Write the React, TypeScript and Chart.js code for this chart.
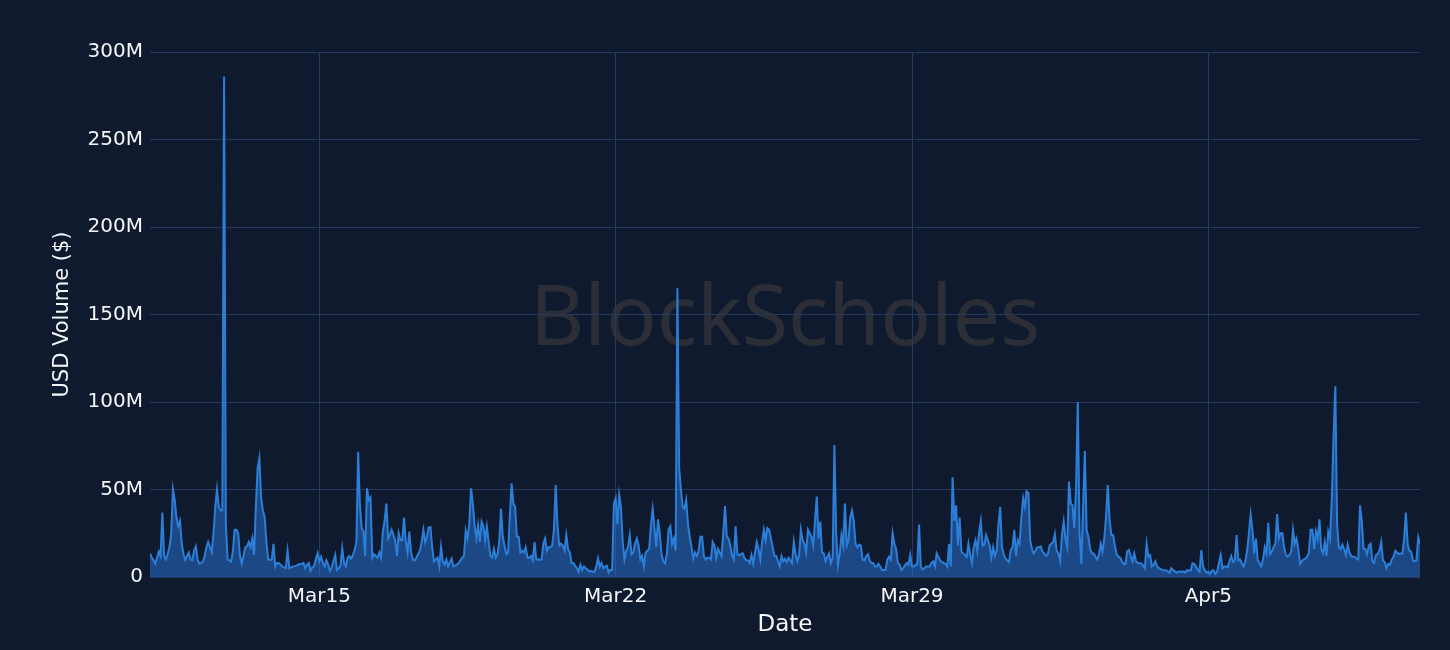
import { useEffect, useRef } from 'react';
import { Chart, registerables } from 'chart.js';

Chart.register(...registerables);

// Hourly USD volume in millions, starting Mar 11 00:00 (hour 0) through Apr 10 00:00 (hour 720)
const volumeM: number[] = [
  13.5, 11, 9.5, 7.5, 11, 14.5, 12, 36.8, 12, 10,
  13, 17, 24, 50, 44, 34, 29, 32, 19, 13,
  9.7, 12, 14, 10, 9.5, 15, 17.5, 10, 7.5, 8,
  8.8, 12, 17, 20, 17, 14, 25, 40, 50, 40,
  38, 38, 286, 30, 10, 9.5, 8.8, 15, 27, 27,
  25, 12, 7.8, 12, 17, 17.5, 20, 17, 22, 12.6,
  40, 62, 68, 45, 38, 34, 20, 10, 9.7, 10,
  19, 6, 8,
  8, 7, 6, 5.5, 5.2, 15, 5, 5.5, 6, 6.2,
  6.5, 7, 7.4, 7.5, 8, 5, 7, 8, 3.5, 5.5,
  6, 10, 13.5, 9, 11.5, 8, 6, 9.5, 7, 3.5,
  5.5, 9, 12.6, 4, 5, 6.5, 16.4, 8, 6, 11,
  12, 10.5, 12.5, 15.4, 20, 71.6, 41, 28, 26, 12,
  50.7, 44, 45.5, 11, 13, 12, 11, 14, 11, 26,
  32, 42, 22, 24, 27, 24, 21, 12, 25, 21,
  21, 34,
  20, 14, 26, 14, 10, 9.5, 11, 13, 15, 20,
  27, 20, 23, 28.4, 28.5, 17, 9, 10, 11, 6,
  17.3, 9, 7, 10, 6, 8.5, 10.5, 6, 6.5, 7,
  8, 9.5, 11, 12, 26.5, 22, 30, 50.7, 42, 30,
  22, 29.7, 20, 31.6, 29, 21, 28.8, 20, 12, 11,
  16, 11, 13, 20, 39, 23, 18, 13, 14, 35,
  53.5, 42, 40, 23, 23, 14, 15, 14, 17, 11,
  11, 12,
  9.5, 20, 10, 10, 9.8, 10, 19, 22, 15, 17,
  17, 18, 27, 52.6, 30, 18, 19, 18, 15, 24,
  16, 14, 8, 8, 6.5, 5, 3, 7, 4, 6,
  5, 4.3, 3, 3.5, 3, 3, 6, 10.7, 6, 8,
  5, 6, 6.5, 2.5, 4, 4, 42, 45, 30, 47,
  40, 20, 10, 15, 17, 24, 13, 14, 19, 22,
  18, 10, 12, 6, 14, 15, 16, 30, 39, 28,
  17, 33,
  25, 13, 9, 7.8, 13, 27, 29, 19, 22, 15,
  165, 62, 50, 40, 39, 44, 30, 23, 17, 10.5,
  14, 12, 15, 23, 23, 12, 10, 11, 11, 10,
  20, 18, 11, 16, 14, 12, 25, 40.6, 23, 22,
  18, 12, 10, 29, 13, 12.5, 13, 13.5, 11, 9.6,
  9.5, 8, 12.5, 7.5, 14, 20, 16, 10, 20, 27,
  21, 28, 27, 22, 17, 12, 12, 9, 6, 12,
  9, 10.5,
  8.5, 11, 9.5, 8, 20, 13, 9, 12.5, 27, 21,
  19, 14, 27, 25, 23, 18, 32, 46, 22, 31.6,
  14, 13.5, 9, 11.5, 13.5, 8, 11, 75.4, 25, 7,
  13, 24, 18, 42, 18, 21, 34, 38, 32, 19,
  17, 18.5, 18, 10, 9.5, 12, 13, 9.5, 8, 8,
  6, 6, 7.5, 6, 4, 4, 4, 10, 11.6, 10,
  25, 19, 16, 8, 7, 4, 5, 6.5, 8, 7,
  12.6, 6,
  6, 7, 7, 30, 6, 4.4, 5, 6, 6, 6,
  8, 9, 6, 13.5, 11.5, 9.5, 8.5, 8, 7.5, 6,
  19, 6, 57, 32, 41, 18, 34, 14.5, 13.5, 12.6,
  11.5, 19, 12.6, 8, 17, 21, 15, 25, 32, 18,
  18.5, 24, 21, 18, 11, 17, 12, 15, 30, 40,
  17, 13, 10.5, 9.5, 8.5, 15.5, 17, 27, 12, 21,
  19, 34, 45, 40, 49, 48, 21, 16, 13.5, 15,
  17, 17,
  17.5, 14.5, 13.5, 12, 13, 18, 19, 20, 24.6, 15,
  13.5, 9, 24, 31.6, 22, 17, 54.5, 42, 41, 28,
  51, 100, 25, 7.5, 40, 72, 27, 23, 16, 13.5,
  13.5, 11.6, 10, 13, 19, 14.5, 22, 34.5, 52.6, 33,
  24, 24, 18, 13, 11.6, 11, 9, 7.5, 7.5, 14.5,
  15.4, 12, 9, 13.5, 9, 8, 8, 7.8, 6.5, 5,
  19, 11.6, 12.5, 6, 7, 9, 6, 5, 4.5, 4,
  3.8, 3.8,
  3.2, 2.5, 5, 4, 3.2, 2.5, 3, 3.2, 3, 3.2,
  2.5, 4, 3.6, 3.8, 7.8, 7.5, 6, 4, 3, 15.4,
  6, 4, 2.5, 3, 1.8, 3.6, 3.8, 1.8, 3, 8,
  12.6, 5, 6, 6, 5.5, 9, 12, 8.6, 9.5, 24,
  9.5, 10, 7.8, 6, 9, 15, 25, 35.8, 27, 13.5,
  22, 9.6, 7.8, 6, 10, 17, 13.5, 31, 13, 14.5,
  17, 19, 36, 22, 25, 25, 16.5, 12.6, 11.6, 12.6,
  14.5, 27,
  19, 22, 16, 7.5, 9, 10, 10.5, 11.5, 14, 27,
  27, 16, 26, 22, 33, 16, 13.5, 20, 12, 26,
  22, 45, 80, 109, 30, 17, 16, 18.5, 16, 12.6,
  18.5, 14, 12, 11.5, 11.6, 10.5, 10, 41, 32, 16,
  16, 13, 18, 19, 9, 8, 12.5, 13, 15, 20,
  9.5, 8.6, 5, 7.5, 7, 10, 11.6, 15, 14, 13,
  13.5, 13.5, 22, 36.8, 19, 15, 14.5, 9.5, 9, 9.5,
  22.7, 19,
];

const xTickHours = [96, 264, 432, 600];
const xTickLabels = ['Mar15', 'Mar22', 'Mar29', 'Apr5'];
const yTickValues = [0, 50, 100, 150, 200, 250, 300];
const yTickLabels = ['0', '50M', '100M', '150M', '200M', '250M', '300M'];
const xTitle = 'Date';
const yTitle = 'USD Volume ($)';
const watermarkText = 'BlockScholes';

const BG = '#101a2e';
const GRID = '#26395e';
const LINE = '#2c7fd8';
const FILL = 'rgba(40,115,215,0.52)';
const TEXT = '#f4f6fa';
const FONT = '"DejaVu Sans", Verdana, sans-serif';

export default function App() {
  const ref = useRef<HTMLCanvasElement>(null);

  useEffect(() => {
    if (!ref.current) return;
    const bgPlugin = {
      id: 'bgWatermark',
      beforeDraw(chart: any) {
        const { ctx, chartArea, width, height } = chart;
        ctx.save();
        ctx.fillStyle = BG;
        ctx.fillRect(0, 0, width, height);
        ctx.font = '84px "Noto Sans"';
        ctx.fillStyle = '#2b2e36';
        ctx.textAlign = 'center';
        ctx.textBaseline = 'alphabetic';
        const cx = (chartArea.left + chartArea.right) / 2;
        const cy = (chartArea.top + chartArea.bottom) / 2;
        ctx.fillText(watermarkText, cx, cy + 30);
        ctx.restore();
      },
    };

    const points = volumeM.map((v, i) => ({ x: i, y: v }));

    const chart = new Chart(ref.current, {
      type: 'line',
      data: {
        datasets: [
          {
            data: points,
            borderColor: LINE,
            backgroundColor: FILL,
            borderWidth: 2,
            fill: 'origin',
            pointRadius: 0,
            tension: 0,
          },
        ],
      },
      options: {
        animation: false,
        responsive: false,
        devicePixelRatio: 1,
        layout: { padding: { left: 0, top: 52, right: 30, bottom: 0 } },
        plugins: {
          legend: { display: false },
          tooltip: { enabled: false },
        },
        scales: {
          x: {
            type: 'linear',
            min: 0,
            max: volumeM.length - 1,
            grid: { color: GRID, lineWidth: 1, drawTicks: false },
            border: { display: false },
            afterBuildTicks: (scale: any) => {
              scale.ticks = xTickHours.map((v) => ({ value: v }));
            },
            afterFit: (scale: any) => {
              scale.height = 73;
            },
            ticks: {
              color: TEXT,
              font: { family: FONT, size: 20 },
              padding: 8,
              maxRotation: 0,
              autoSkip: false,
              callback: (_v: any, i: number) => xTickLabels[i],
            },
            title: {
              display: true,
              text: xTitle,
              color: TEXT,
              font: { family: FONT, size: 23 },
              padding: { top: 0, bottom: 11 },
            },
          },
          y: {
            min: 0,
            max: 300,
            grid: { color: GRID, lineWidth: 1, drawTicks: false },
            border: { display: false },
            afterBuildTicks: (scale: any) => {
              scale.ticks = yTickValues.map((v) => ({ value: v }));
            },
            afterFit: (scale: any) => {
              scale.width = 150;
            },
            ticks: {
              color: TEXT,
              font: { family: FONT, size: 20 },
              padding: 7,
              callback: (_v: any, i: number) => yTickLabels[i],
            },
            title: {
              display: true,
              text: yTitle,
              color: TEXT,
              font: { family: FONT, size: 21 },
              padding: { top: 50, bottom: 0 },
            },
          },
        },
      },
      plugins: [bgPlugin],
    });

    return () => chart.destroy();
  }, []);

  return (
    <div style={{ position: 'fixed', left: 0, top: 0, width: 1450, height: 650, background: BG }}>
      <canvas ref={ref} width={1450} height={650} style={{ display: 'block' }} />
    </div>
  );
}
